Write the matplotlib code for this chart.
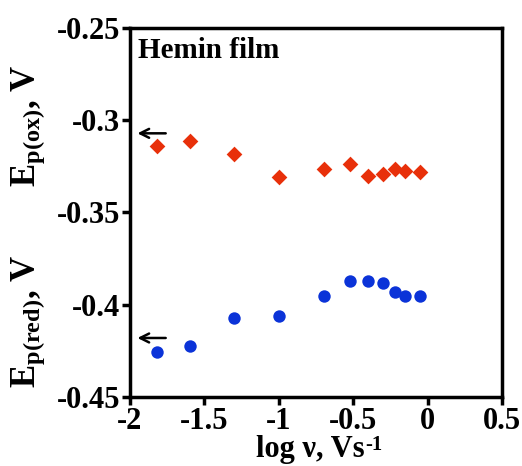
import matplotlib
matplotlib.use("Agg")
import matplotlib.pyplot as plt

# scan rate (log v) and peak potentials
log_v = [-1.82, -1.60, -1.30, -1.00, -0.70, -0.52, -0.40, -0.30, -0.22, -0.155, -0.05]
e_ox = [-0.3141, -0.3113, -0.3185, -0.3310, -0.3266, -0.3237, -0.3304, -0.3292, -0.3263, -0.3274, -0.3283]
e_red = [-0.4254, -0.4225, -0.4072, -0.4063, -0.3953, -0.3873, -0.3873, -0.3882, -0.3933, -0.3951, -0.3951]

x_ticks = [-2, -1.5, -1, -0.5, 0, 0.5]
x_tick_labels = ["-2", "-1.5", "-1", "-0.5", "0", "0.5"]
y_ticks = [-0.45, -0.4, -0.35, -0.3, -0.25]
y_tick_labels = ["-0.45", "-0.4", "-0.35", "-0.3", "-0.25"]

plt.rcParams["font.family"] = ["Liberation Serif", "DejaVu Serif"]
plt.rcParams["font.weight"] = "bold"
plt.rcParams["mathtext.fontset"] = "custom"
plt.rcParams["mathtext.rm"] = "Liberation Serif:bold"
plt.rcParams["mathtext.it"] = "Liberation Serif:bold:italic"
plt.rcParams["mathtext.bf"] = "Liberation Serif:bold"

fig = plt.figure(figsize=(5.22, 4.66), dpi=100)
ax = fig.add_axes([0.249, 0.148, 0.713, 0.792])

ax.scatter(log_v, e_ox, marker="D", s=64, color="#E8300A", zorder=3, linewidths=0)
ax.scatter(log_v, e_red, marker="o", s=80, color="#0B33D8", zorder=3, linewidths=0)

# arrows pointing to the left axis
for y in (-0.3071, -0.418):
    ax.annotate("", xy=(-1.95, y), xytext=(-1.76, y),
                arrowprops=dict(arrowstyle="->", lw=1.8, color="black",
                                mutation_scale=16, shrinkA=0, shrinkB=0))

ax.set_xlim(-2, 0.5)
ax.set_ylim(-0.45, -0.25)
ax.set_xticks(x_ticks)
ax.set_xticklabels(x_tick_labels)
ax.set_yticks(y_ticks)
ax.set_yticklabels(y_tick_labels)
ax.tick_params(direction="out", length=6, width=2.5, labelsize=22, pad=1)
for s in ax.spines.values():
    s.set_linewidth(2.5)

ax.text(0.022, 0.975, "Hemin film", transform=ax.transAxes, fontsize=21,
        fontweight="bold", ha="left", va="top")

# x label with a superscript -1
xlab = fig.text(0.595, 0.019, "log \u03bd, Vs", fontsize=22, fontweight="bold",
                ha="center", va="baseline")
ax.annotate("-1", xy=(1.0, 1.0), xycoords=xlab, fontsize=15, fontweight="bold",
            ha="left", va="top", annotation_clip=False)

fig.text(0.055, 0.73, r"E$_{\mathregular{p(ox)}}$, V", rotation=90, fontsize=25,
         fontweight="bold", ha="center", va="center")
fig.text(0.055, 0.31, r"E$_{\mathregular{p(red)}}$, V", rotation=90, fontsize=25,
         fontweight="bold", ha="center", va="center")

fig.savefig("out.png", dpi=100)
